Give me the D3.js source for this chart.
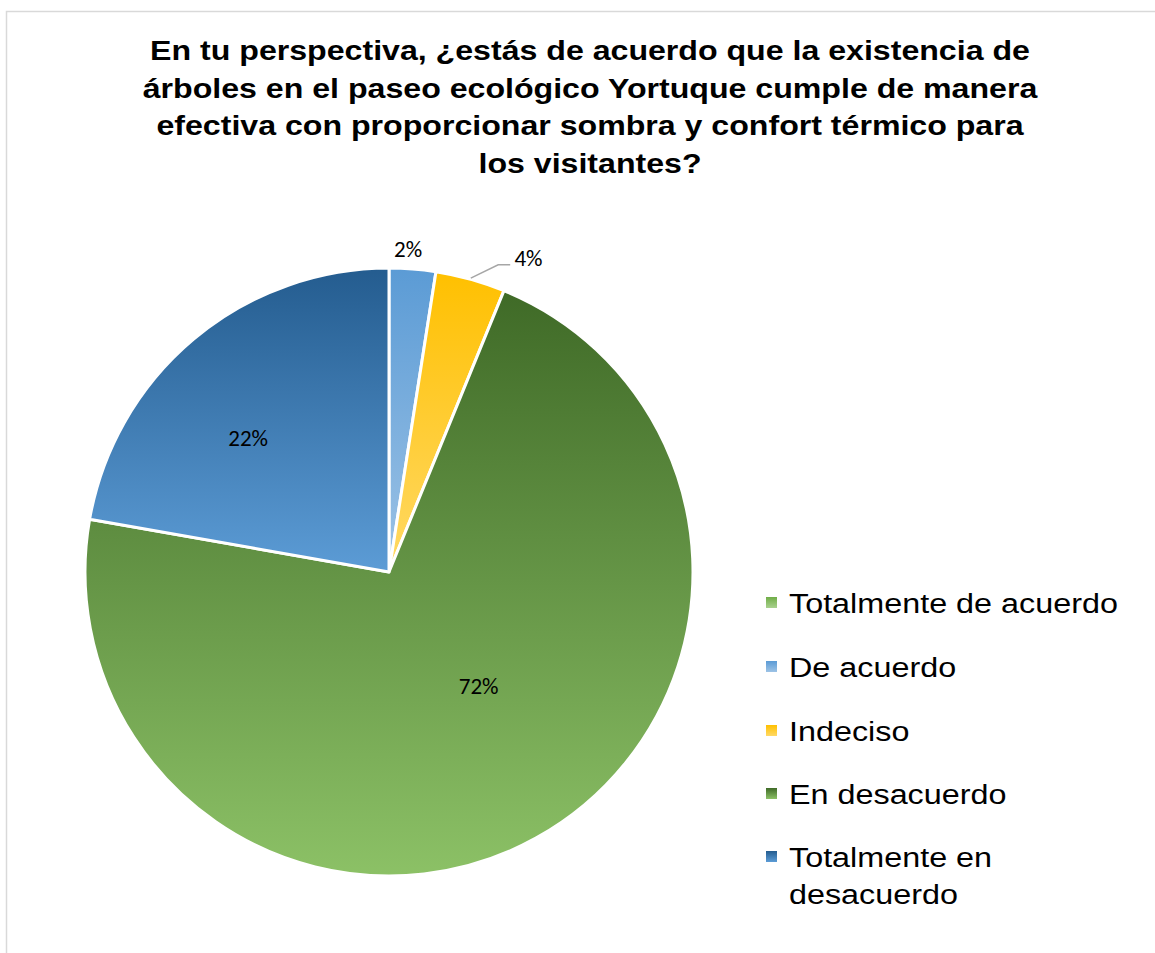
<!DOCTYPE html>
<html>
<head>
<meta charset="utf-8">
<script src="https://cdn.jsdelivr.net/npm/d3@7"></script>
<style>
  body { margin: 0; background: #fff; }
  svg { display: block; }
</style>
</head>
<body>
<div id="chart"></div>
<script>
// categories in legend order
const categories = [
  'Totalmente de acuerdo',
  'De acuerdo',
  'Indeciso',
  'En desacuerdo',
  'Totalmente en desacuerdo',
]
// answer counts (n = 81)
const counts = [0, 2, 3, 58, 18]
const labels = ['0%', '2%', '4%', '72%', '22%']

// gradient fills, top colour -> bottom colour
const topColors = ['#70ad47', '#5b9bd5', '#ffc000', '#3f6a27', '#245c8f']
const bottomColors = ['#a9d18e', '#9dc3e6', '#ffd966', '#8cc166', '#5c9cd6']

const titleLines = [
  'En tu perspectiva, ¿estás de acuerdo que la existencia de',
  'árboles en el paseo ecológico Yortuque cumple de manera',
  'efectiva con proporcionar sombra y confort térmico para',
  'los visitantes?',
]

const width = 1155
const height = 953
const cx = 389
const cy = 572
const radius = 304
// the original text renders wider than Liberation Sans
const titleStretch = 1.19
const legendStretch = 1.155

const svg = d3
  .select('#chart')
  .append('svg')
  .attr('width', width)
  .attr('height', height)

// chart area border
svg
  .append('rect')
  .attr('x', 6.5)
  .attr('y', 11.5)
  .attr('width', width + 10)
  .attr('height', height + 10)
  .attr('fill', '#fff')
  .attr('stroke', '#d9d9d9')
  .attr('stroke-width', 1.5)

const defs = svg.append('defs')
categories.forEach(function(c, i) {
  const g = defs
    .append('linearGradient')
    .attr('id', 'grad' + i)
    .attr('x1', 0)
    .attr('y1', 0)
    .attr('x2', 0)
    .attr('y2', 1)
  g.append('stop').attr('offset', '0%').attr('stop-color', topColors[i])
  g.append('stop').attr('offset', '100%').attr('stop-color', bottomColors[i])
})

svg
  .append('g')
  .selectAll('text')
  .data(titleLines)
  .enter()
  .append('text')
  .attr('transform', function(d, i) {
    return 'translate(590,' + (60 + i * 37.7) + ') scale(' + titleStretch + ',1)'
  })
  .attr('text-anchor', 'middle')
  .style('font-family', 'Arial, "Liberation Sans", sans-serif')
  .style('font-weight', 'bold')
  .style('font-size', '27px')
  .style('fill', '#000')
  .text(function(d) {
    return d
  })

const pie = d3
  .pie()
  .sort(null)
  .value(function(d) {
    return d
  })

const arcs = pie(counts).map(function(a, i) {
  a.index = i
  return a
})

const arc = d3.arc().innerRadius(0).outerRadius(radius)

const pieG = svg
  .append('g')
  .attr('transform', 'translate(' + cx + ',' + cy + ')')

pieG
  .selectAll('path')
  .data(arcs.filter(function(a) {
    return a.value > 0
  }))
  .enter()
  .append('path')
  .attr('d', arc)
  .attr('fill', function(d) {
    return 'url(#grad' + d.index + ')'
  })
  .attr('stroke', '#fff')
  .attr('stroke-width', 3)
  .attr('stroke-linejoin', 'round')

// label placement: [radius fraction, position along the slice's angle]
const labelPlace = [null, [1.065, 0.38], [1.13, 1.13], [0.477, 0.464], [0.64, 0.42]]

function polar(r, a) {
  return [Math.sin(a) * r, -Math.cos(a) * r]
}

arcs.forEach(function(a, i) {
  if (!labelPlace[i]) return
  const ang = a.startAngle + (a.endAngle - a.startAngle) * labelPlace[i][1]
  const p = polar(radius * labelPlace[i][0], ang)
  pieG
    .append('text')
    .attr('x', p[0])
    .attr('y', p[1])
    .attr('dy', '0.35em')
    .attr('text-anchor', 'middle')
    .style('font-family', 'Carlito, Lato, "Open Sans", sans-serif')
    .style('font-size', '23px')
    .style('fill', '#000')
    .text(labels[i])
})

// leader line for the small "Indeciso" slice
const ind = arcs[2]
const midA = (ind.startAngle + ind.endAngle) / 2
const p0 = polar(radius + 1, midA)
const p1 = polar(radius + 22, midA + 0.07)
pieG
  .append('polyline')
  .attr('points', [p0, p1, [p1[0] + 12, p1[1]]].map(function(p) {
    return p.join(',')
  }).join(' '))
  .attr('fill', 'none')
  .attr('stroke', '#a6a6a6')
  .attr('stroke-width', 1.5)

// legend
const legend = svg.append('g').attr('transform', 'translate(766,0)')
const legendY = [613, 677, 741, 804, 867]

categories.forEach(function(c, i) {
  const row = legend.append('g')
  row
    .append('rect')
    .attr('x', 0)
    .attr('y', legendY[i] - 16)
    .attr('width', 11)
    .attr('height', 11)
    .attr('fill', 'url(#grad' + i + ')')
  const t = row
    .append('text')
    .attr('transform', 'translate(23,' + legendY[i] + ') scale(' + legendStretch + ',1)')
    .style('font-family', 'Arial, "Liberation Sans", sans-serif')
    .style('font-size', '28px')
    .style('fill', '#000')
  const parts = c === 'Totalmente en desacuerdo' ? ['Totalmente en', 'desacuerdo'] : [c]
  parts.forEach(function(p, j) {
    t.append('tspan')
      .attr('x', 0)
      .attr('dy', j === 0 ? 0 : 37)
      .text(p)
  })
})
</script>
</body>
</html>
